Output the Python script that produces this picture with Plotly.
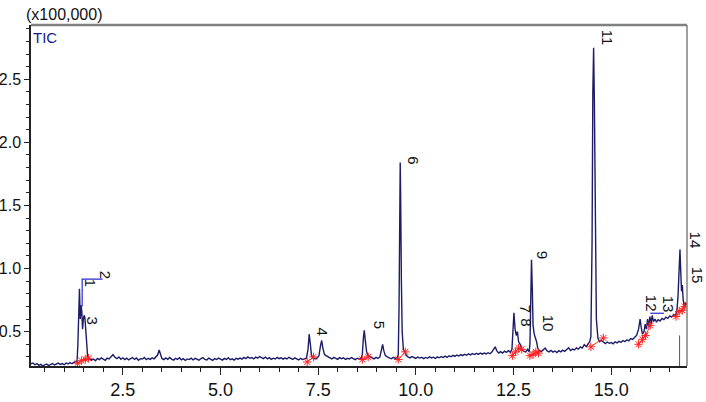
import plotly.graph_objects as go

# retention time (min) and TIC intensity (x100,000)
rt = [0.15, 0.20, 0.25, 0.30, 0.35, 0.40, 0.45, 0.50, 0.55, 0.60, 0.65, 0.70, 0.75, 0.80, 0.85, 0.90, 0.95, 1.00, 1.05, 1.10, 1.15, 1.20, 1.25, 1.30,
      1.33, 1.35, 1.37, 1.39, 1.41, 1.43, 1.45, 1.47, 1.49, 1.51, 1.53, 1.55, 1.57, 1.60, 1.63, 1.66,
      1.70, 1.75, 1.80, 1.85, 1.90, 1.95, 2.00, 2.05, 2.10, 2.15, 2.20, 2.25, 2.30, 2.35, 2.40, 2.45, 2.50, 2.55, 2.60, 2.65, 2.70, 2.75, 2.80, 2.85, 2.90, 2.95, 3.00, 3.05, 3.10, 3.15, 3.20, 3.25, 3.30, 3.35,
      3.39, 3.43, 3.47,
      3.50, 3.55, 3.60, 3.65, 3.70, 3.75, 3.80, 3.85, 3.90, 3.95, 4.00, 4.05, 4.10, 4.15, 4.20, 4.25, 4.30, 4.35, 4.40, 4.45, 4.50, 4.55, 4.60, 4.65, 4.70, 4.75, 4.80, 4.85, 4.90, 4.95,
      5.00, 5.05, 5.10, 5.15, 5.20, 5.25, 5.30, 5.35, 5.40, 5.45, 5.50, 5.55, 5.60, 5.65, 5.70, 5.75, 5.80, 5.85, 5.90, 5.95, 6.00, 6.05, 6.10, 6.15, 6.20, 6.25, 6.30, 6.35, 6.40, 6.45,
      6.50, 6.55, 6.60, 6.65, 6.70, 6.75, 6.80, 6.85, 6.90, 6.95, 7.00, 7.05, 7.10, 7.15,
      7.20, 7.24, 7.27, 7.30, 7.33, 7.37, 7.42, 7.47, 7.52, 7.56, 7.59, 7.62, 7.66, 7.70, 7.75,
      7.80, 7.85, 7.90, 7.95, 8.00, 8.05, 8.10, 8.15, 8.20, 8.25, 8.30, 8.35, 8.40, 8.45, 8.50, 8.55, 8.60,
      8.63, 8.66, 8.68, 8.71, 8.74, 8.78, 8.83, 8.88, 8.93, 8.98, 9.03, 9.08, 9.12, 9.15, 9.18, 9.22, 9.27, 9.32, 9.37, 9.42, 9.47, 9.52,
      9.55, 9.57, 9.59, 9.60, 9.61, 9.63, 9.65, 9.68, 9.72, 9.76,
      9.80, 9.85, 9.90, 9.95, 10.00, 10.05, 10.10, 10.15, 10.20, 10.25, 10.30, 10.35, 10.40, 10.45, 10.50, 10.55, 10.60, 10.65, 10.70, 10.75, 10.80, 10.85, 10.90, 10.95,
      11.00, 11.05, 11.10, 11.15, 11.20, 11.25, 11.30, 11.35, 11.40, 11.45, 11.50, 11.55, 11.60, 11.65, 11.70, 11.75, 11.80, 11.85, 11.90, 11.95,
      12.00, 12.03, 12.07, 12.12, 12.17, 12.22, 12.27, 12.32, 12.37, 12.42,
      12.46, 12.49, 12.51, 12.54, 12.57, 12.60, 12.63, 12.67, 12.71, 12.76, 12.81, 12.86, 12.90,
      12.92, 12.94, 12.96, 12.98, 13.00, 13.03, 13.06, 13.09, 13.12, 13.16,
      13.21, 13.26, 13.31, 13.36, 13.41, 13.46, 13.51, 13.56, 13.61, 13.66, 13.71, 13.76, 13.81, 13.86, 13.91, 13.96, 14.01, 14.06, 14.11, 14.16, 14.21, 14.26, 14.31, 14.36, 14.41, 14.45,
      14.48, 14.51, 14.53, 14.55, 14.57, 14.59, 14.62, 14.66, 14.70,
      14.75, 14.80, 14.85, 14.90, 14.95, 15.00, 15.05, 15.10, 15.15, 15.20, 15.25, 15.30, 15.35, 15.40, 15.45, 15.50, 15.55, 15.60, 15.65,
      15.70, 15.74, 15.77, 15.80, 15.84, 15.87, 15.90, 15.93, 15.96, 15.99, 16.02, 16.05, 16.08, 16.12, 16.16, 16.20, 16.25, 16.30, 16.35, 16.40, 16.45, 16.50, 16.55, 16.60, 16.64, 16.68,
      16.71, 16.74, 16.76, 16.78, 16.80, 16.82, 16.84, 16.87, 16.90, 16.94]

tic = [0.245, 0.252, 0.238, 0.247, 0.233, 0.241, 0.229, 0.236, 0.244, 0.231, 0.239, 0.248, 0.236, 0.243, 0.251, 0.240, 0.247, 0.238, 0.252, 0.244, 0.255, 0.246, 0.258, 0.262,
       0.27, 0.40, 0.64, 0.84, 0.60, 0.71, 0.66, 0.52, 0.60, 0.63, 0.61, 0.50, 0.36, 0.30, 0.29, 0.28,
       0.275, 0.283, 0.270, 0.288, 0.279, 0.292, 0.281, 0.273, 0.290, 0.284, 0.302, 0.318, 0.297, 0.286, 0.300, 0.281, 0.293, 0.279, 0.290, 0.276, 0.287, 0.295, 0.280, 0.291, 0.274, 0.286, 0.283, 0.295, 0.278, 0.289, 0.281, 0.292, 0.285, 0.300,
       0.315, 0.355, 0.31,
       0.288, 0.278, 0.292, 0.281, 0.296, 0.283, 0.274, 0.289, 0.280, 0.293, 0.277, 0.286, 0.272, 0.284, 0.279, 0.290, 0.276, 0.288, 0.282, 0.274, 0.287, 0.295, 0.280, 0.276, 0.291, 0.283, 0.272, 0.286, 0.279, 0.290,
       0.284, 0.275, 0.288, 0.280, 0.293, 0.278, 0.285, 0.274, 0.289, 0.282, 0.291, 0.283, 0.296, 0.287, 0.300, 0.289, 0.295, 0.284, 0.298, 0.290, 0.303, 0.292, 0.287, 0.299, 0.285, 0.294, 0.281, 0.290, 0.284, 0.296,
       0.286, 0.293, 0.282, 0.291, 0.284, 0.297, 0.286, 0.280, 0.292, 0.283, 0.276, 0.289, 0.279, 0.284,
       0.29, 0.36, 0.48, 0.40, 0.31, 0.29, 0.285, 0.29, 0.31, 0.39, 0.43, 0.37, 0.32, 0.31, 0.30,
       0.292, 0.284, 0.296, 0.287, 0.281, 0.294, 0.286, 0.292, 0.280, 0.289, 0.283, 0.295, 0.286, 0.279, 0.290, 0.283, 0.288,
       0.32, 0.46, 0.51, 0.42, 0.34, 0.31, 0.30, 0.292, 0.285, 0.296, 0.288, 0.30, 0.35, 0.40, 0.35, 0.31, 0.30, 0.292, 0.285, 0.296, 0.288, 0.293,
       0.32, 0.70, 1.40, 1.84, 1.60, 0.90, 0.50, 0.36, 0.33, 0.31,
       0.300, 0.292, 0.303, 0.294, 0.288, 0.299, 0.291, 0.297, 0.286, 0.296, 0.289, 0.301, 0.292, 0.298, 0.288, 0.300, 0.293, 0.303, 0.295, 0.306, 0.297, 0.309, 0.301, 0.312,
       0.304, 0.315, 0.307, 0.318, 0.310, 0.321, 0.313, 0.324, 0.316, 0.327, 0.319, 0.328, 0.320, 0.331, 0.322, 0.330, 0.324, 0.333, 0.325, 0.340,
       0.365, 0.38, 0.35, 0.33, 0.342, 0.331, 0.345, 0.336, 0.350, 0.338,
       0.36, 0.52, 0.65, 0.52, 0.47, 0.50, 0.42, 0.40, 0.36, 0.345, 0.34, 0.36, 0.34,
       0.40, 0.80, 1.07, 0.85, 0.55, 0.48, 0.45, 0.42, 0.37, 0.35,
       0.342, 0.355, 0.37, 0.348, 0.340, 0.352, 0.338, 0.347, 0.335, 0.349, 0.340, 0.353, 0.344, 0.358, 0.372, 0.350, 0.362, 0.355, 0.372, 0.362, 0.380, 0.370, 0.398, 0.382, 0.405, 0.42,
       0.46, 1.20, 2.40, 2.75, 2.30, 1.30, 0.60, 0.45, 0.42,
       0.43, 0.415, 0.405, 0.418, 0.408, 0.414, 0.404, 0.420, 0.411, 0.424, 0.415, 0.430, 0.421, 0.436, 0.428, 0.445, 0.438, 0.455, 0.47,
       0.52, 0.60, 0.53, 0.48, 0.50, 0.56, 0.52, 0.60, 0.54, 0.62, 0.56, 0.63, 0.58, 0.60, 0.575, 0.595, 0.585, 0.605, 0.595, 0.615, 0.605, 0.625, 0.615, 0.635, 0.63, 0.66,
       0.78, 1.00, 1.15, 0.98, 0.82, 0.87, 0.76, 0.70, 0.73, 0.71]

# integration start/end marks (red)
mark_rt = [1.34, 1.44, 1.54, 1.62, None, 7.22, 7.38, None, 8.63, 8.78, None, 9.55, 9.73, None,
           12.47, 12.55, 12.63, 12.71, None, 12.92, 13.00, 13.07, 13.14, None, 14.48, 14.80, None,
           15.70, 15.80, 15.88, 16.00, None, 16.66, 16.74, 16.82, 16.88]
mark_val = [0.25, 0.27, 0.28, 0.29, None, 0.26, 0.30, None, 0.28, 0.30, None, 0.28, 0.34, None,
            0.31, 0.34, 0.37, 0.36, None, 0.31, 0.32, 0.34, 0.33, None, 0.38, 0.45, None,
            0.40, 0.44, 0.47, 0.55, None, 0.62, 0.66, 0.67, 0.70]

# peak numbers and where they are written
peak_labels = ["1", "2", "3", "4", "5", "6", "7", "8", "9", "10", "11", "12", "13", "14", "15"]
label_rt = [1.66, 2.05, 1.73, 7.60, 9.06, 9.93, 12.80, 12.83, 13.23, 13.39, 14.89, 16.02, 16.46, 17.15, 17.20]
label_val = [0.887, 0.95, 0.59, 0.50, 0.553, 1.857, 0.68, 0.571, 1.109, 0.569, 2.83, 0.728, 0.72, 1.228, 0.95]

# blue label brackets
bracket_rt = [1.46, 1.46, 1.98, None, 16.0, 16.35]
bracket_val = [0.70, 0.916, 0.916, None, 0.646, 0.646]

cursor_rt = 16.75
cursor_top = 0.47

x_range = [0.15, 16.94]
y_range = [0.228, 2.93]

sans = "Liberation Sans, Arial, sans-serif"

fig = go.Figure()
fig.add_trace(go.Scatter(x=rt, y=tic, mode="lines",
                         line=dict(color="#1c1c68", width=1.4), hoverinfo="skip"))
fig.add_trace(go.Scatter(x=bracket_rt, y=bracket_val, mode="lines",
                         line=dict(color="#2a2ad0", width=1.2), hoverinfo="skip"))
fig.add_trace(go.Scatter(x=mark_rt, y=mark_val, mode="lines+markers",
                         line=dict(color="#ff2020", width=1),
                         marker=dict(symbol="asterisk-open", size=7, color="#ff2020",
                                     line=dict(color="#ff2020", width=1)),
                         hoverinfo="skip"))
fig.add_trace(go.Scatter(x=[cursor_rt, cursor_rt], y=[y_range[0], cursor_top], mode="lines",
                         line=dict(color="#555555", width=1), hoverinfo="skip"))

for lab, x, y in zip(peak_labels, label_rt, label_val):
    if x <= x_range[1]:
        fig.add_annotation(x=x, y=y, xref="x", yref="y", text=lab, showarrow=False,
                           textangle=90, font=dict(family=sans, size=15, color="#111111"))
    else:
        # labels past the last retention time sit outside the frame -> paper coords
        xp = (x - x_range[0]) / (x_range[1] - x_range[0])
        fig.add_annotation(x=xp, y=y, xref="paper", yref="y", text=lab, showarrow=False,
                           xanchor="center", textangle=90,
                           font=dict(family=sans, size=15, color="#111111"))

fig.add_annotation(x=-0.01, y=1.0, xref="paper", yref="paper", text="(x100,000)",
                   showarrow=False, xanchor="left", yanchor="bottom", yshift=0,
                   font=dict(family=sans, size=16, color="#111111"))
fig.add_annotation(x=0.0, y=1.0, xref="paper", yref="paper", text="TIC",
                   showarrow=False, xanchor="left", yanchor="top", yshift=-2,
                   font=dict(family=sans, size=15, color="#1a1a8c"))

# gray frame on top and right
fig.add_shape(type="line", xref="paper", yref="paper", x0=0, x1=1, y0=1, y1=1,
              line=dict(color="#808080", width=2.5))
fig.add_shape(type="line", xref="paper", yref="paper", x0=1, x1=1, y0=0, y1=1,
              line=dict(color="#808080", width=1.5))

fig.update_layout(
    width=706, height=402,
    margin=dict(l=31, r=19, t=25, b=36),
    paper_bgcolor="white", plot_bgcolor="white",
    showlegend=False,
    font=dict(family=sans, size=18, color="#111111"),
)
fig.update_xaxes(range=x_range, tick0=0, dtick=2.5, tickformat=".1f", automargin=False,
                 showgrid=False, zeroline=False, showline=True, linecolor="#222222", linewidth=1.5,
                 ticks="outside", ticklen=7, tickcolor="#222222",
                 minor=dict(dtick=0.5, ticks="outside", ticklen=4, tickcolor="#222222"),
                 tickfont=dict(family=sans, size=18))
fig.update_yaxes(range=y_range, tick0=0, dtick=0.5, tickformat=".1f", automargin=False,
                 showgrid=False, zeroline=False, showline=True, linecolor="#222222", linewidth=1.5,
                 ticks="outside", ticklen=5, tickcolor="#222222",
                 minor=dict(dtick=0.1, ticks="outside", ticklen=3, tickcolor="#222222"),
                 tickfont=dict(family=sans, size=16))

# page body has a default margin; drop it so the 706x402 figure fills the window
fig.write_html("out.html", config={"displayModeBar": False},
               post_script="document.body.style.margin='0px';")
